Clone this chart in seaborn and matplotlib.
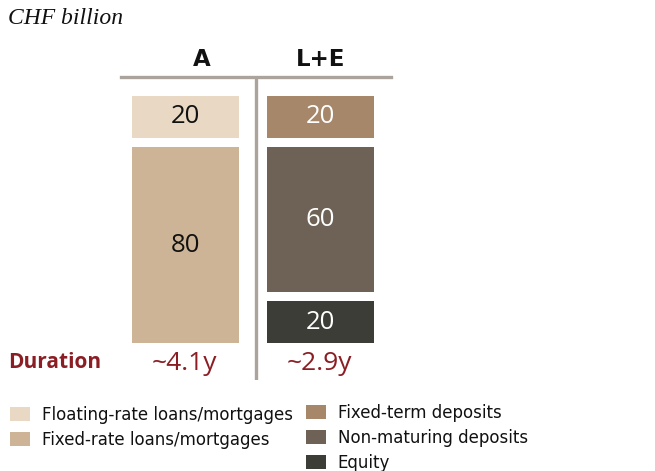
import numpy as np
import pandas as pd
import matplotlib
matplotlib.use("Agg")
import matplotlib.pyplot as plt
from matplotlib.patches import Patch
import seaborn as sns

# ---- data ----
columns = ["A", "L+E"]
asset_labels = ["Floating-rate loans/mortgages", "Fixed-rate loans/mortgages"]
asset_values = [20, 80]
liab_labels = ["Fixed-term deposits", "Non-maturing deposits", "Equity"]
liab_values = [20, 60, 20]
durations = ["~4.1y", "~2.9y"]
unit_title = "CHF billion"

# ---- style ----
sns.set_theme(style="white")
plt.rcParams["font.family"] = ["DejaVu Sans"]
plt.rcParams["text.color"] = "#111111"

asset_colors = ["#e9d9c4", "#cdb497"]
liab_colors = ["#a6876a", "#6d6255", "#3c3d37"]
asset_text = ["#111111", "#111111"]
liab_text = ["white", "white", "white"]
red = "#8b1e24"
line_gray = "#aba49d"

fig = plt.figure(figsize=(6.55, 4.71), dpi=100)
ax = fig.add_axes([0.1847, 0.1932, 0.4122, 0.6433])

gap = 3.7
bar_w = 0.793


def draw_stack(ax, xpos, values, colors, tcolors):
    tops = np.concatenate([[0], np.cumsum(values)[:-1]])
    for v, t, c, tc in zip(values, tops, colors, tcolors):
        ax.bar(xpos, v - gap, bottom=t + gap / 2, width=bar_w, color=c,
               edgecolor="none", linewidth=0)
        ax.text(xpos, t + v / 2, str(v), ha="center", va="center",
                fontsize=18.5, color=tc, family=["Open Sans", "DejaVu Sans"])


draw_stack(ax, 0, asset_values, asset_colors, asset_text)
draw_stack(ax, 1, liab_values, liab_colors, liab_text)

ax.set_xlim(-0.478, 1.522)
ax.set_ylim(112.6, -5.56)
ax.set_xticks([])
ax.set_yticks([])
for s in ["left", "right", "bottom"]:
    ax.spines[s].set_visible(False)
ax.spines["top"].set_color(line_gray)
ax.spines["top"].set_linewidth(2.4)
ax.axvline(0.522, ymin=0, ymax=0.993, color=line_gray, linewidth=2.4)

# column headers
for i, c in enumerate(columns):
    ax.text(i + (0.12 if i == 0 else 0.0), -8.0, c, ha="center", va="bottom",
            fontsize=16.5, fontweight="bold", color="#111111")

# durations
for i, d in enumerate(durations):
    ax.text(i - 0.01, 106.3, d, ha="center", va="center", fontsize=19,
            color=red, family=["Open Sans", "DejaVu Sans"])
fig.text(0.012, 1 - 362 / 471, "Duration", ha="left", va="center",
         fontsize=15, fontweight="bold", color=red,
         family=["Open Sans", "DejaVu Sans"])

# title
fig.text(0.012, 1 - 18 / 471, unit_title, ha="left", va="center",
         fontsize=17, style="italic", color="#111111",
         family=["Liberation Serif", "DejaVu Serif"])

# legends
h1 = [Patch(facecolor=c, edgecolor="none") for c in asset_colors]
h2 = [Patch(facecolor=c, edgecolor="none") for c in liab_colors]
common = dict(frameon=False, fontsize=12, handlelength=1.2, handleheight=0.95,
              handletextpad=0.7, labelspacing=0.42, borderpad=0, borderaxespad=0,
              loc="upper left", labelcolor="#111111")
leg1 = fig.legend(h1, asset_labels, bbox_to_anchor=(10 / 655, 1 - 406 / 471), **common)
leg2 = fig.legend(h2, liab_labels, bbox_to_anchor=(306 / 655, 1 - 404 / 471), **common)

fig.savefig("out.png", dpi=100)
